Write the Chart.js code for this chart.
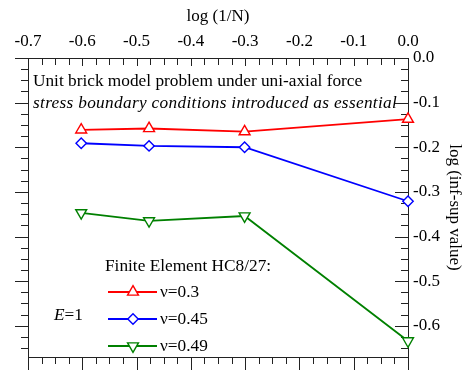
<!DOCTYPE html>
<html>
<head>
<meta charset="utf-8">
<script src="https://cdn.jsdelivr.net/npm/chart.js@4.4.0/dist/chart.umd.min.js"></script>
<style>
  html, body { margin: 0; padding: 0; background: #fff; }
</style>
</head>
<body>
<canvas id="myChart" width="465" height="374"></canvas>
<script>
// log(1/N) for N = 4, 3, 2, 1
const logInvN = [-0.602, -0.477, -0.301, 0.0];
// log(inf-sup value) per Poisson ratio
const nu03 = [-0.161, -0.158, -0.165, -0.137];
const nu045 = [-0.191, -0.197, -0.200, -0.321];
const nu049 = [-0.347, -0.365, -0.354, -0.634];
const seriesLabels = ['\u03bd=0.3', '\u03bd=0.45', '\u03bd=0.49'];
const xTickValues = [-0.7, -0.6, -0.5, -0.4, -0.3, -0.2, -0.1, 0.0];
const yTickValues = [0.0, -0.1, -0.2, -0.3, -0.4, -0.5, -0.6];

const FONT = '"Liberation Serif", "Times New Roman", serif';
const RED = '#ff0000', BLUE = '#0000ff', GREEN = '#008000';

const toPoints = (ys) => logInvN.map((x, i) => ({ x: x, y: ys[i] }));
const fmt = (v) => (Math.abs(v) < 1e-9 ? '0.0' : v.toFixed(1));

const seriesStyle = [
    { color: RED, pointStyle: 'triangle', rotation: 0, radius: 6.3 },
    { color: BLUE, pointStyle: 'rectRot', rotation: 0, radius: 5.2 },
    { color: GREEN, pointStyle: 'triangle', rotation: 180, radius: 6.3 }
];

function makeDataset(label, ys, st) {
    return {
        label: label,
        data: toPoints(ys),
        borderColor: st.color,
        borderWidth: 1.8,
        backgroundColor: '#fff',
        pointStyle: st.pointStyle,
        pointRotation: st.rotation,
        pointRadius: st.radius,
        pointBorderWidth: 1.4,
        pointBorderColor: st.color,
        pointBackgroundColor: '#fff',
        tension: 0,
        clip: false
    };
}

// frame with ticks on all four sides (left/bottom outward, top/right inward)
const framePlugin = {
    id: 'frame',
    beforeDatasetsDraw(chart) {
        const ctx = chart.ctx;
        const ca = chart.chartArea;
        const xs = chart.scales.x, ys = chart.scales.y;
        ctx.save();
        ctx.strokeStyle = '#222';
        ctx.lineWidth = 1;
        ctx.strokeRect(ca.left + 0.5, ca.top + 0.5, ca.right - ca.left, ca.bottom - ca.top);
        ctx.beginPath();
        for (let i = 0; i <= 28; i++) {
            const v = xs.min + i * 0.025;
            const px = Math.round(xs.getPixelForValue(v)) + 0.5;
            const major = i % 4 === 0;
            ctx.moveTo(px, ca.top); ctx.lineTo(px, ca.top + (major ? 8 : 7));
            ctx.moveTo(px, ca.bottom); ctx.lineTo(px, ca.bottom + (major ? 13 : 7));
        }
        for (let i = 0; i <= 26; i++) {
            const v = -i * 0.025;
            const py = Math.round(ys.getPixelForValue(v)) + 0.5;
            const len = i % 4 === 0 ? 13 : 7;
            ctx.moveTo(ca.left, py); ctx.lineTo(ca.left - len, py);
            ctx.moveTo(ca.right, py); ctx.lineTo(ca.right - len, py);
        }
        ctx.stroke();
        ctx.restore();
    },
    afterDraw(chart) {
        const ctx = chart.ctx;
        ctx.save();
        ctx.fillStyle = '#000';
        ctx.textBaseline = 'middle';
        ctx.textAlign = 'left';

        ctx.font = '17.3px ' + FONT;
        ctx.fillText('Unit brick model problem under uni-axial force', 33, 81);

        ctx.font = 'italic 17.3px ' + FONT;
        const s = 'stress boundary conditions introduced as essential';
        const w0 = ctx.measureText(s).width;
        ctx.letterSpacing = ((364 - w0) / (s.length - 1)).toFixed(2) + 'px';
        ctx.fillText(s, 33, 103);
        ctx.letterSpacing = '0px';

        // legend
        ctx.font = '17.3px ' + FONT;
        ctx.fillText('Finite Element HC8/27:', 105, 266);
        const rows = [292, 319, 346];
        seriesStyle.forEach((st, i) => {
            const y = rows[i];
            ctx.strokeStyle = st.color;
            ctx.lineWidth = 1.8;
            ctx.beginPath();
            ctx.moveTo(108, y); ctx.lineTo(157, y);
            ctx.stroke();
            ctx.fillStyle = '#fff';
            ctx.lineWidth = 1.4;
            Chart.helpers.drawPoint(ctx, {
                pointStyle: st.pointStyle, radius: st.radius, rotation: st.rotation, borderWidth: 1.4
            }, 133, y);
            ctx.fillStyle = '#000';
            ctx.fillText(seriesLabels[i], 160, y);
        });

        // E=1
        ctx.font = 'italic 17.3px ' + FONT;
        ctx.fillText('E', 54, 315);
        const ew = ctx.measureText('E').width;
        ctx.font = '17.3px ' + FONT;
        ctx.fillText('=1', 54 + ew, 315);
        ctx.restore();
    }
};

const myChartRef = document.getElementById('myChart').getContext('2d');
new Chart(myChartRef, {
    type: 'line',
    data: {
        datasets: [
            makeDataset(seriesLabels[0], nu03, seriesStyle[0]),
            makeDataset(seriesLabels[1], nu045, seriesStyle[1]),
            makeDataset(seriesLabels[2], nu049, seriesStyle[2])
        ]
    },
    options: {
        responsive: false,
        animation: false,
        devicePixelRatio: 1,
        layout: { padding: { left: 28, bottom: 17, top: 0, right: 0 } },
        plugins: { legend: { display: false }, tooltip: { enabled: false } },
        scales: {
            x: {
                type: 'linear',
                position: 'top',
                min: -0.7,
                max: 0,
                grid: { display: false, drawTicks: false },
                border: { display: false },
                afterBuildTicks: (scale) => { scale.ticks = xTickValues.map(v => ({ value: v })); },
                afterFit: (scale) => { scale.height = 58; },
                ticks: {
                    color: '#000',
                    padding: 6,
                    maxRotation: 0,
                    autoSkip: false,
                    font: { family: FONT, size: 17 },
                    callback: (v) => fmt(v)
                },
                title: {
                    display: true,
                    text: 'log (1/N)',
                    color: '#000',
                    padding: { top: 6, bottom: 0 },
                    font: { family: FONT, size: 17 }
                }
            },
            y: {
                type: 'linear',
                position: 'right',
                min: -0.67,
                max: 0,
                grid: { display: false, drawTicks: false },
                border: { display: false },
                afterBuildTicks: (scale) => { scale.ticks = yTickValues.map(v => ({ value: v })); },
                afterFit: (scale) => { scale.width = 57; },
                ticks: {
                    color: '#000',
                    padding: 5,
                    autoSkip: false,
                    font: { family: FONT, size: 17 },
                    callback: (v) => fmt(v)
                },
                title: {
                    display: true,
                    text: 'log (inf-sup value)',
                    color: '#000',
                    padding: { top: 0, bottom: 0 },
                    font: { family: FONT, size: 17 }
                }
            }
        }
    },
    plugins: [framePlugin]
});
</script>
</body>
</html>
